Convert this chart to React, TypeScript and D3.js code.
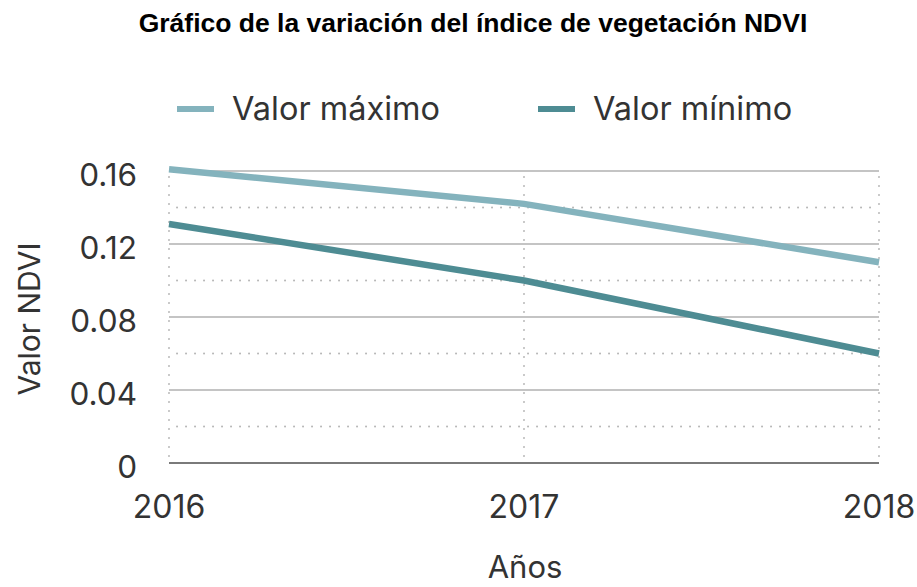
import React from "react";
import * as d3 from "d3";

const years = [2016, 2017, 2018];
const maxValues = [0.161, 0.142, 0.11];
const minValues = [0.131, 0.1, 0.06];
const majorTicks = [0, 0.04, 0.08, 0.12, 0.16];
const minorTicks = [0.02, 0.06, 0.1, 0.14];
const tickLabels = ["0", "0.04", "0.08", "0.12", "0.16"];
const seriesNames = ["Valor máximo", "Valor mínimo"];
const seriesColors = ["#84b3bd", "#4e8c93"];

const W = 917;
const H = 587;
const FONT = "Inter, 'Noto Sans', sans-serif";

export default function App() {
  const x = d3.scaleLinear().domain([2016, 2018]).range([169, 879]);
  const y = d3.scaleLinear().domain([0, 0.16]).range([463, 171]);
  const line = d3
    .line<number>()
    .x((_, i) => x(years[i]))
    .y((d) => y(d));
  const series = [maxValues, minValues];

  return (
    <svg
      width={W}
      height={H}
      style={{ position: "absolute", left: 0, top: 0, background: "#fff" }}
    >
      <rect width={W} height={H} fill="#fff" />
      <text
        x={473}
        y={32}
        textAnchor="middle"
        fontFamily="'Liberation Sans', Arial, sans-serif"
        fontWeight="bold"
        fontSize={26.5}
        fill="#000"
      >
        Gráfico de la variación del índice de vegetación NDVI
      </text>

      {/* legend */}
      {seriesNames.map((n, i) => {
        const lx = i === 0 ? 177 : 538;
        return (
          <g key={n}>
            <line
              x1={lx}
              x2={lx + 37}
              y1={109}
              y2={109}
              stroke={seriesColors[i]}
              strokeWidth={6}
            />
            <text
              x={lx + 55}
              y={120}
              fontFamily={FONT}
              fontSize={32.5}
              fill="#333"
            >
              {n}
            </text>
          </g>
        );
      })}

      {/* minor dotted gridlines */}
      {minorTicks.map((t) => (
        <line
          key={"mi" + t}
          x1={x(2016) + 8}
          x2={x(2018) - 4}
          y1={y(t)}
          y2={y(t)}
          stroke="#b8b8b8"
          strokeWidth={2}
          strokeDasharray="0.1 8.9"
          strokeLinecap="round"
        />
      ))}
      {years.map((yr) => (
        <line
          key={"v" + yr}
          x1={x(yr)}
          x2={x(yr)}
          y1={y(0.16) + 6}
          y2={y(0) - 4}
          stroke="#b8b8b8"
          strokeWidth={2}
          strokeDasharray="0.1 8.9"
          strokeLinecap="round"
        />
      ))}
      {/* major gridlines */}
      {majorTicks.map((t) => (
        <line
          key={"ma" + t}
          x1={x(2016)}
          x2={x(2018)}
          y1={y(t)}
          y2={y(t)}
          stroke={t === 0 ? "#7a7a7a" : "#b0b0b0"}
          strokeWidth={t === 0 ? 2 : 1.5}
        />
      ))}

      {/* y tick labels */}
      {majorTicks.map((t, i) => (
        <text
          key={"yl" + t}
          x={137}
          y={y(t) + 15}
          textAnchor="end"
          fontFamily={FONT}
          fontSize={31.5}
          fill="#333"
        >
          {tickLabels[i]}
        </text>
      ))}
      {/* x tick labels */}
      {years.map((yr) => (
        <text
          key={"xl" + yr}
          x={x(yr)}
          y={518}
          textAnchor="middle"
          fontFamily={FONT}
          fontSize={32}
          fill="#333"
        >
          {yr}
        </text>
      ))}

      {/* lines */}
      {series.map((s, i) => (
        <path
          key={"s" + i}
          d={line(s) || ""}
          fill="none"
          stroke={seriesColors[i]}
          strokeWidth={6.5}
        />
      ))}

      {/* axis titles */}
      <text
        transform="translate(40,319) rotate(-90)"
        textAnchor="middle"
        fontFamily={FONT}
        fontSize={30}
        fill="#333"
      >
        Valor NDVI
      </text>
      <text
        x={525}
        y={578}
        textAnchor="middle"
        fontFamily={FONT}
        fontSize={31}
        fill="#333"
      >
        Años
      </text>
    </svg>
  );
}
